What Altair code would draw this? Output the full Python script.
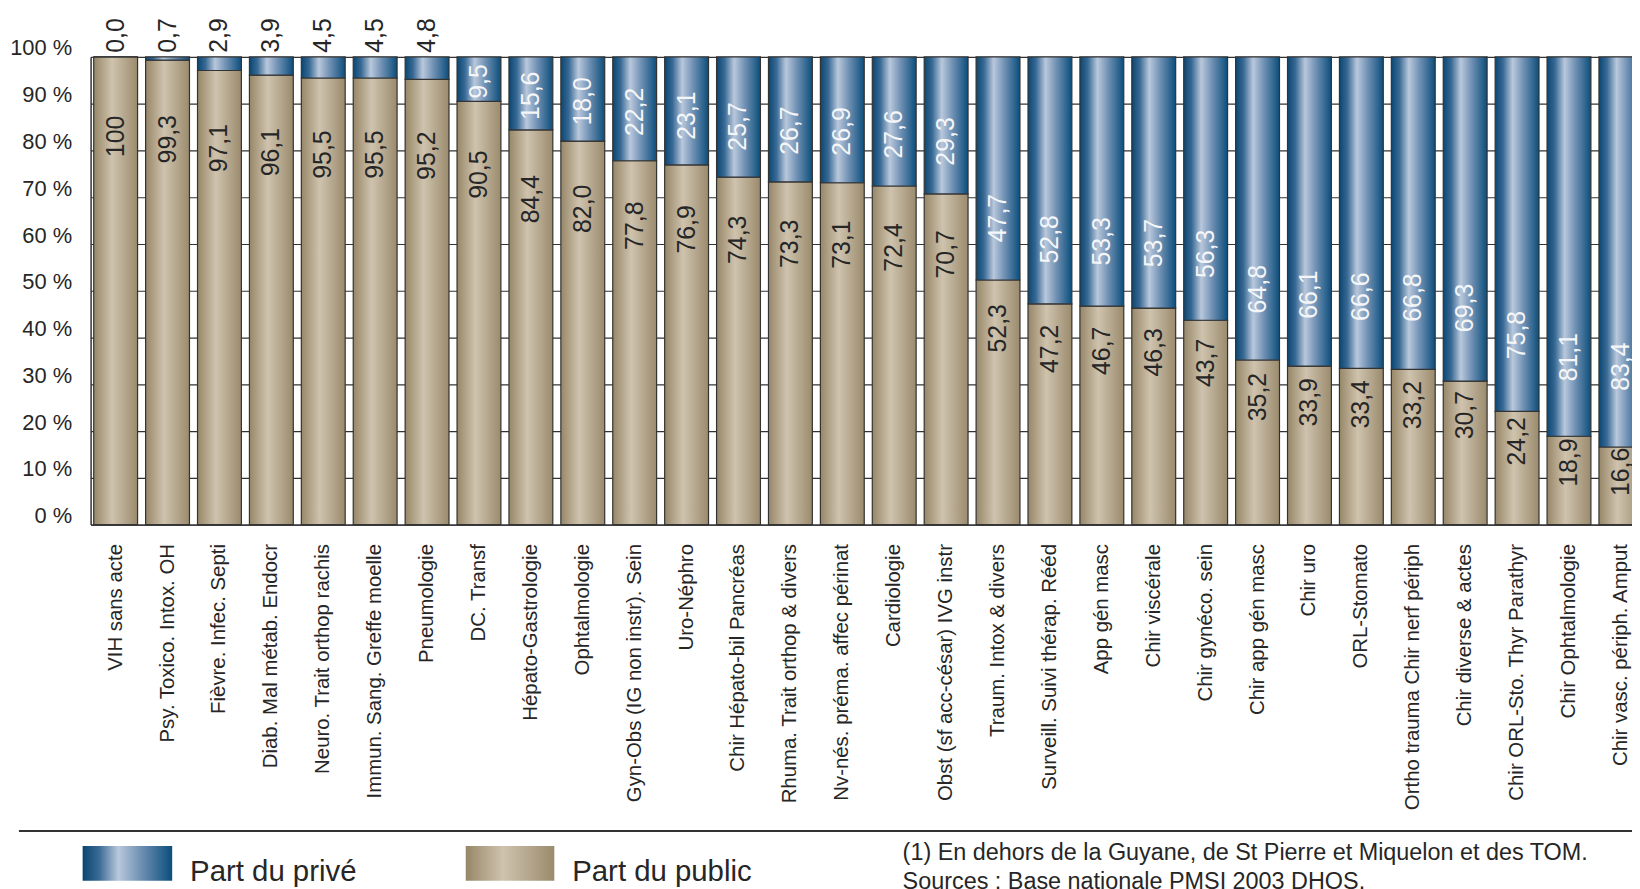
import altair as alt
import pandas as pd

categories = [
    "VIH sans acte", "Psy. Toxico. Intox. OH", "Fièvre. Infec. Septi",
    "Diab. Mal métab. Endocr", "Neuro. Trait orthop rachis", "Immun. Sang. Greffe moelle",
    "Pneumologie", "DC. Transf", "Hépato-Gastrologie", "Ophtalmologie",
    "Gyn-Obs (IG non instr). Sein", "Uro-Néphro", "Chir Hépato-bil Pancréas",
    "Rhuma. Trait orthop & divers", "Nv-nés. préma. affec périnat", "Cardiologie",
    "Obst (sf acc-césar) IVG instr", "Traum. Intox & divers", "Surveill. Suivi thérap. Rééd",
    "App gén masc", "Chir viscérale", "Chir gynéco. sein", "Chir app gén masc",
    "Chir uro", "ORL-Stomato", "Ortho trauma Chir nerf périph", "Chir diverse & actes",
    "Chir ORL-Sto. Thyr Parathyr", "Chir Ophtalmologie", "Chir vasc. périph. Amput",
]
public = [100, 99.3, 97.1, 96.1, 95.5, 95.5, 95.2, 90.5, 84.4, 82.0,
          77.8, 76.9, 74.3, 73.3, 73.1, 72.4, 70.7, 52.3, 47.2, 46.7,
          46.3, 43.7, 35.2, 33.9, 33.4, 33.2, 30.7, 24.2, 18.9, 16.6]
private = [0.0, 0.7, 2.9, 3.9, 4.5, 4.5, 4.8, 9.5, 15.6, 18.0,
           22.2, 23.1, 25.7, 26.7, 26.9, 27.6, 29.3, 47.7, 52.8, 53.3,
           53.7, 56.3, 64.8, 66.1, 66.6, 66.8, 69.3, 75.8, 81.1, 83.4]
y_ticks = [0, 10, 20, 30, 40, 50, 60, 70, 80, 90, 100]
legend_labels = ["Part du privé", "Part du public"]
footnotes = ["(1) En dehors de la Guyane, de St Pierre et Miquelon et des TOM.",
             "Sources : Base nationale PMSI 2003 DHOS."]


def fmt(v):
    return "100" if v == 100 else f"{v:.1f}".replace(".", ",")


df = pd.DataFrame({"cat": categories, "public": public, "private": private})
df["top"] = df["public"] + df["private"]
df["pub_lbl"] = [fmt(v) for v in public]
df["priv_lbl"] = [fmt(v) for v in private]

FONT = "Liberation Sans, Arial, sans-serif"
DARK = "#333333"
TXT = "#262626"

blue_grad = alt.Gradient(
    gradient="linear", x1=0, x2=1, y1=0, y2=0,
    stops=[
        alt.GradientStop(color="#0a4672", offset=0),
        alt.GradientStop(color="#386994", offset=0.18),
        alt.GradientStop(color="#b9c8dc", offset=0.4),
        alt.GradientStop(color="#6f90b3", offset=0.65),
        alt.GradientStop(color="#0b4e7c", offset=1),
    ],
)
tan_grad = alt.Gradient(
    gradient="linear", x1=0, x2=1, y1=0, y2=0,
    stops=[
        alt.GradientStop(color="#978768", offset=0),
        alt.GradientStop(color="#cfc3ae", offset=0.42),
        alt.GradientStop(color="#9b8b6d", offset=1),
    ],
)

x_enc = alt.X(
    "cat:N", sort=categories,
    scale=alt.Scale(range=[0, 1563], paddingInner=0.155, paddingOuter=0.06),
    axis=alt.Axis(title=None, labelAngle=270, labelAlign="right", labelBaseline="middle",
                  labelPadding=19, ticks=False, domain=True, domainColor=DARK,
                  domainWidth=1.5, labelFont=FONT, labelFontSize=20.5, labelColor=TXT,
                  labelLimit=500),
)
y_scale = alt.Scale(domain=[0, 100], nice=False)

base = alt.Chart(df)

public_bars = base.mark_bar(color=tan_grad, stroke=DARK, strokeWidth=1.2).encode(
    x=x_enc,
    y=alt.Y("public:Q", scale=y_scale,
            axis=alt.Axis(values=y_ticks, labelExpr="datum.value + ' %'", title=None,
                          ticks=False, grid=True, gridColor=DARK, gridOpacity=1,
                          gridWidth=1.2, domainColor=DARK, domainWidth=1.5,
                          labelPadding=19, labelFont=FONT, labelFontSize=22,
                          labelColor=TXT, labelOffset=-9)),
)

private_bars = base.mark_bar(color=blue_grad, stroke=DARK, strokeWidth=1.2).encode(
    x=alt.X("cat:N", sort=categories),
    y=alt.Y("public:Q", scale=y_scale),
    y2="top:Q",
)

pub_text = base.transform_calculate(
    ypos="0.86 * datum.public - 3"
).mark_text(angle=270, font=FONT, fontSize=25, color=TXT,
            align="center", baseline="middle").encode(
    x=alt.X("cat:N", sort=categories),
    y=alt.Y("ypos:Q", scale=y_scale),
    text="pub_lbl:N",
)

priv_text = base.transform_filter("datum.private >= 5").transform_calculate(
    ypos="datum.public + min(datum.private / 2 - 0.5, 8 + 0.11 * datum.private)"
).mark_text(angle=270, font=FONT, fontSize=25, color="#f4f6f8",
            align="center", baseline="middle").encode(
    x=alt.X("cat:N", sort=categories),
    y=alt.Y("ypos:Q", scale=y_scale),
    text="priv_lbl:N",
)

top_text = base.transform_filter("datum.private < 5").transform_calculate(
    ypos="datum.top + 0.9"
).mark_text(angle=270, font=FONT, fontSize=25, color=TXT,
            align="left", baseline="middle").encode(
    x=alt.X("cat:N", sort=categories),
    y=alt.Y("ypos:Q", scale=y_scale),
    text="priv_lbl:N",
)

one = alt.Data(values=[{"k": 0}])

sep = alt.Chart(one).mark_rule(color=DARK, strokeWidth=2).encode(
    x=alt.value(-72), x2=alt.value(1549), y=alt.value(778))

sw_blue = alt.Chart(one).mark_rect(color=blue_grad).encode(
    x=alt.value(-8), x2=alt.value(82), y=alt.value(793), y2=alt.value(828))
sw_tan = alt.Chart(one).mark_rect(color=tan_grad).encode(
    x=alt.value(377), x2=alt.value(466), y=alt.value(793), y2=alt.value(828))

lg1 = alt.Chart(one).mark_text(font=FONT, fontSize=29.5, color=TXT, align="left",
                               baseline="alphabetic").encode(
    x=alt.value(100), y=alt.value(828), text=alt.value(legend_labels[0]))
lg2 = alt.Chart(one).mark_text(font=FONT, fontSize=29.5, color=TXT, align="left",
                               baseline="alphabetic").encode(
    x=alt.value(484), y=alt.value(828), text=alt.value(legend_labels[1]))

fn1 = alt.Chart(one).mark_text(font=FONT, fontSize=23.5, color=TXT, align="left",
                               baseline="alphabetic").encode(
    x=alt.value(816), y=alt.value(807), text=alt.value(footnotes[0]))
fn2 = alt.Chart(one).mark_text(font=FONT, fontSize=23.5, color=TXT, align="left",
                               baseline="alphabetic").encode(
    x=alt.value(816), y=alt.value(836), text=alt.value(footnotes[1]))

chart = alt.layer(
    public_bars, private_bars, pub_text, priv_text, top_text,
    sep, sw_blue, sw_tan, lg1, lg2, fn1, fn2,
).properties(
    width=1549, height=470,
    padding={"left": 83, "top": 47, "right": 0, "bottom": 364},
    autosize=alt.AutoSizeParams(type="none"),
    background="white",
).configure_view(stroke=None)

chart.save("out.html", embed_options={"renderer": "svg", "actions": False})
